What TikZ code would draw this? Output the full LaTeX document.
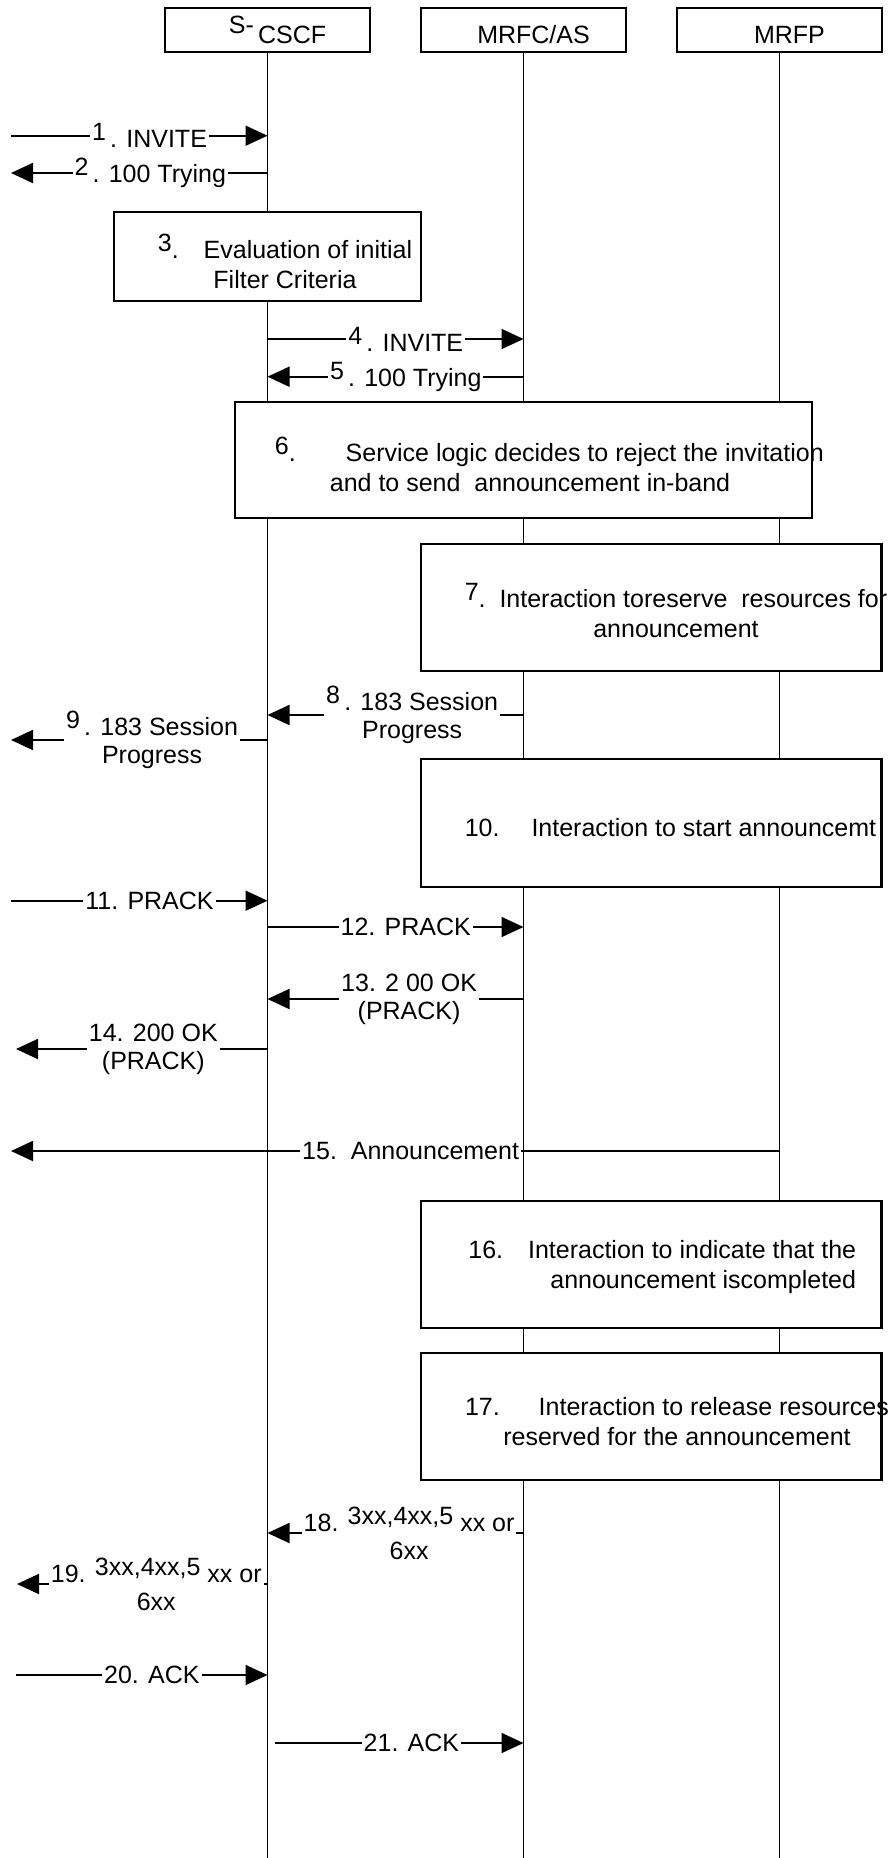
\documentclass[tikz,border=0pt]{standalone}
\usepackage{fontspec}
\setmainfont{Liberation Sans}
\usetikzlibrary{arrows.meta,positioning,calc}
\newcommand{\upnum}[1]{\raisebox{3.5pt}{#1}}

\begin{document}
\begin{tikzpicture}[x=0.5pt, y=-0.5pt, line width=0.9pt, font=\fontsize{12.5}{15}\selectfont,
  actor/.style={rectangle,draw,line width=1.2pt,minimum width=102.5pt,minimum height=22pt,inner sep=0pt,text height=13pt,text depth=0pt},
  stepbox/.style={rectangle,draw,fill=white,line width=1.2pt,inner sep=0pt},
  steptext/.style={align=center,inner sep=0pt},
  msg/.style={-{Triangle[length=11pt,width=10pt]}},
  msglabel/.style={fill=white,inner sep=1pt,align=center,font=\fontsize{12.5}{14}\selectfont}]
\useasboundingbox (0,0) rectangle (893,1858);
\begin{scope}
\node[actor] (scscf) at (267.5,30) {\hspace*{10pt}\raisebox{5pt}{S-}\,CSCF};
\node[actor] (mrfc) at (523.5,30) {\hspace*{10pt}MRFC/AS};
\node[actor] (mrfp) at (779.5,30) {\hspace*{10pt}MRFP};
\end{scope}
% message levels
\coordinate (m1) at (11,135.7);
\coordinate (m2) at (11,173);
\coordinate (m4) at (0,339);
\coordinate (m5) at (0,376.7);
\coordinate (m8) at (0,715);
\coordinate (m9) at (11,740);
\coordinate (m11) at (11,900.7);
\coordinate (m12) at (0,927);
\coordinate (m13) at (0,999);
\coordinate (m14) at (16,1049);
\coordinate (m15) at (11,1151);
\coordinate (m18) at (0,1533);
\coordinate (m19) at (17,1584);
\coordinate (m20) at (16,1675);
\coordinate (m21) at (0,1743);
\coordinate (bot) at (0,1858);
\begin{scope}
\draw[msg] (m1) -- node[msglabel,pos=0.54] (l1) {\upnum{1}\,. INVITE} (m1 -| scscf);
\draw[msg] (m2 -| scscf) -- node[msglabel,pos=0.457] (l2) {\upnum{2}\,. 100 Trying} (m2);
\draw[msg] (m4 -| scscf) -- node[msglabel,pos=0.54] (l4) {\upnum{4}\,. INVITE} (m4 -| mrfc);
\draw[msg] (m5 -| mrfc) -- node[msglabel,pos=0.46] (l5) {\upnum{5}\,. 100 Trying} (m5 -| scscf);
\draw[msg] (m8 -| mrfc) -- node[msglabel,pos=0.435] (l8) {\upnum{8}\,. 183 Session\\Progress} (m8 -| scscf);
\draw[msg] (m9 -| scscf) -- node[msglabel,pos=0.45] (l9) {\upnum{9}\,. 183 Session\\Progress} (m9);
\draw[msg] (m11) -- node[msglabel,pos=0.54] (l11) {11. PRACK} (m11 -| scscf);
\draw[msg] (m12 -| scscf) -- node[msglabel,pos=0.54] (l12) {12. PRACK} (m12 -| mrfc);
\draw[msg] (m13 -| mrfc) -- node[msglabel,pos=0.447] (l13) {13. 2 00 OK\\(PRACK)} (m13 -| scscf);
\draw[msg] (m14 -| scscf) -- node[msglabel,pos=0.454] (l14) {14. 200 OK\\(PRACK)} (m14);
\draw[msg] (m15 -| mrfp) -- node[msglabel,pos=0.48] (l15) {15.\ \ Announcement} (m15);
\draw[msg] (m18 -| mrfc) -- node[msglabel,pos=0.447] (l18) {18. \upnum{3xx,4xx,5} xx or\\6xx} (m18 -| scscf);
\draw[msg] (m19 -| scscf) -- node[msglabel,pos=0.444] (l19) {19. \upnum{3xx,4xx,5} xx or\\6xx} (m19);
\draw[msg] (m20) -- node[msglabel,pos=0.54] (l20) {20. ACK} (m20 -| scscf);
\draw[msg] ($(m21 -| scscf)+(7,0)$) -- node[msglabel,pos=0.55] (l21) {21. ACK} (m21 -| mrfc);
\end{scope}
% lifelines
\draw (scscf.south) -- (scscf.south |- bot);
\draw (mrfc.south) -- (mrfc.south |- bot);
\draw (mrfp.south) -- (mrfp.south |- bot);
\begin{scope}
\node[stepbox,minimum width=153.5pt,minimum height=44.5pt] (s3) at (267.5,256.5) {};
\node[steptext] (t3) at (285,261) {\upnum{3}.\quad Evaluation of initial\\Filter Criteria};
\node[stepbox,minimum width=288.5pt,minimum height=58pt] (s6) at (523.5,460) {};
\node[steptext,align=left,anchor=west] (t6) at (274,464) {\upnum{6}.\qquad Service logic decides to reject the invitation\\\hspace*{27.5pt}and to send\ \ announcement in-band};
\node[stepbox,minimum width=230.25pt,minimum height=63.5pt] (s7) at (651.25,607.5) {};
\node[steptext] (t7) at (676,611) {\upnum{7}.\ \ Interaction toreserve\ \ resources for\\announcement};
\node[stepbox,minimum width=230.25pt,minimum height=64pt] (s10) at (651.25,823) {};
\node[steptext] (t10) at (670.5,828) {10.\quad\ Interaction to start announcemt};
\node[stepbox,minimum width=230.25pt,minimum height=63.5pt] (s16) at (651.25,1264.5) {};
\node[steptext,align=right,anchor=east] (t16) at (857,1267) {16.\quad Interaction to indicate that the\\announcement iscompleted};
\node[stepbox,minimum width=230.25pt,minimum height=63.5pt] (s17) at (651.25,1416.5) {};
\node[steptext] (t17) at (677,1422) {17.\quad\ \ Interaction to release resources\\reserved for the announcement};
\end{scope}
\end{tikzpicture}
\end{document}
